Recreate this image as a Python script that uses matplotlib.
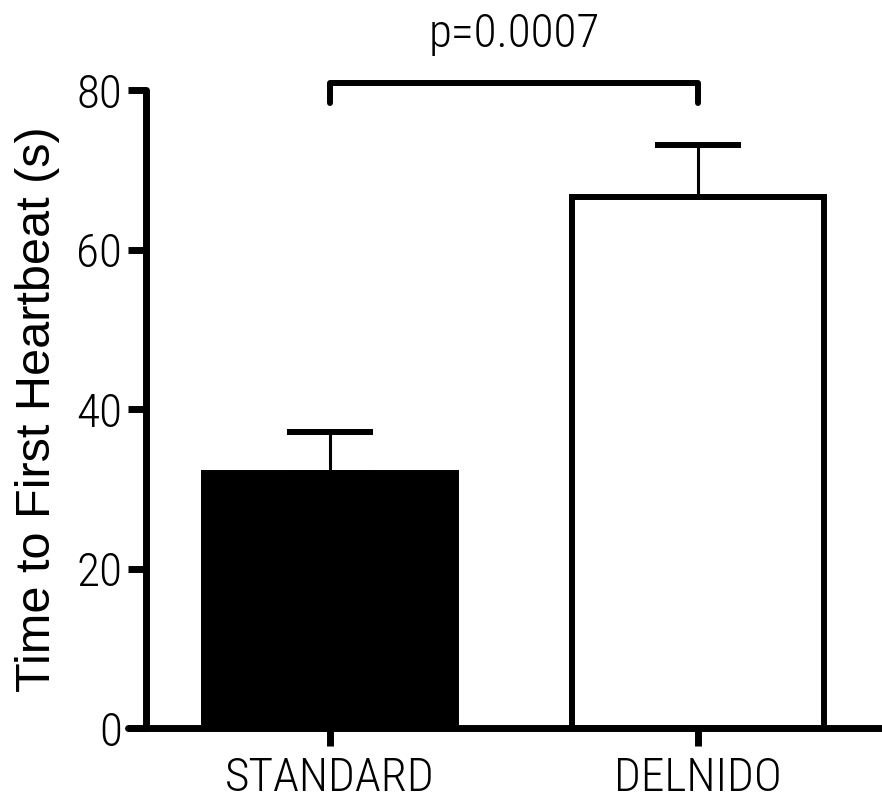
import matplotlib.pyplot as plt

# data
groups = ["STANDARD", "DELNIDO"]
means = [32.0, 66.6]
sem = [5.1, 6.5]
bar_colors = ["black", "white"]
y_ticks = [0, 20, 40, 60, 80]
p_label = "p=0.0007"

narrow = ["Roboto Condensed", "Liberation Sans"]
nw = "light"

fig = plt.figure(figsize=(8.82, 8.01), dpi=100)
ax = fig.add_axes([0.1655, 0.0911, 0.8345, 0.7965])

x = list(range(len(groups)))
ax.bar(x, means, width=0.683, color=bar_colors, edgecolor="black", linewidth=4.3, zorder=2)
ax.errorbar(x, means, yerr=[[0, 0], sem], fmt="none", ecolor="black",
            elinewidth=2.2, capsize=31, capthick=4.3, zorder=1)

ax.set_xlim(-0.5, 1.5)
ax.set_ylim(0, 80)
ax.set_xticks(x)
ax.set_xticklabels(groups, fontfamily=narrow, fontweight=nw, fontsize=34)
ax.set_yticks(y_ticks)
ax.set_yticklabels([str(t) for t in y_ticks], fontfamily=narrow, fontweight=nw, fontsize=34)
ax.set_ylabel("Time to First Heartbeat (s)", fontfamily="Liberation Sans", fontsize=35, va="center")
ax.yaxis.set_label_coords(-0.148, 0.5)

for side in ["top", "right"]:
    ax.spines[side].set_visible(False)
for side in ["left", "bottom"]:
    ax.spines[side].set_linewidth(5)
    ax.spines[side].set_capstyle("round")
ax.spines["bottom"].set_bounds(-0.549, 1.6)
ax.tick_params(axis="both", length=13, width=5, direction="out", pad=4)
ax.tick_params(axis="x", pad=7)

# significance bracket
yb, yd = 80.9, 78.4
ax.plot([0, 0, 1, 1], [yd, yb, yb, yd], color="black", lw=4.3,
        solid_capstyle="round", solid_joinstyle="round", clip_on=False)
ax.text(0.5, 84.3, p_label, ha="center", va="bottom", fontfamily=narrow, fontweight=nw, fontsize=34)

fig.savefig("out.png", dpi=100)
